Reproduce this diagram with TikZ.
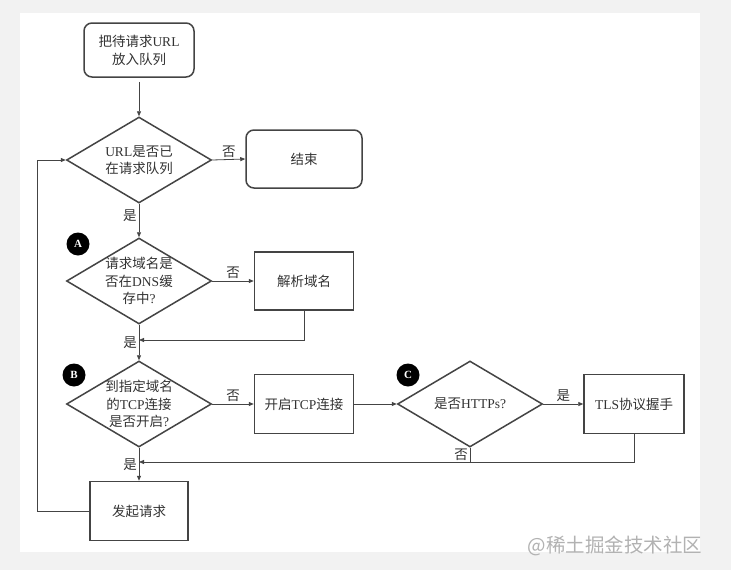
\documentclass[tikz,border=0pt]{standalone}
\usepackage{fontspec}
\setmainfont{Liberation Serif}
\newfontfamily\cjk{Noto Sans CJK SC}
\newcommand\zh[1]{{\cjk #1}}
\usetikzlibrary{shapes.geometric,arrows.meta}
\definecolor{ln}{HTML}{444444}
\definecolor{tx}{HTML}{333333}
\tikzset{
  base/.style={draw=ln, line width=1.5pt, text=tx, align=center, inner sep=2pt,
    font=\fontsize{13.5}{18}\selectfont},
  rbox/.style={base, rounded corners=8pt},
  sbox/.style={base},
  dia/.style={draw=ln, line width=1.5pt, diamond, inner sep=0pt,
    minimum width=145pt, minimum height=86pt},
  dtext/.style={text=tx, align=center, font=\fontsize{13.5}{17.5}\selectfont},
  arr/.style={draw=ln, line width=0.8pt, -{Triangle[length=5pt,width=4pt]}},
  con/.style={draw=ln, line width=0.8pt},
  lab/.style={text=tx, font=\fontsize{13.5}{16}\selectfont, inner sep=2pt},
  circ/.style={circle, fill=black, text=white, minimum size=23pt, inner sep=0pt,
    font=\bfseries\fontsize{11}{11}\selectfont}
}
\begin{document}
\begin{tikzpicture}[x=1pt,y=-1pt]
\useasboundingbox (0,0) rectangle (731,570);
\fill[black!5] (0,0) rectangle (731,570);
\fill[white] (20,13) rectangle (700,552);

% nodes
\node[rbox, minimum width=110pt, minimum height=54pt] (start) at (139,50) {\zh{把待请求}URL\\\zh{放入队列}};
\node[dia] (d1) at (139,160) {};
\node[dtext] (t1) at (139,160) {URL\zh{是否已}\\\zh{在请求队列}};
\node[rbox, minimum width=116pt, minimum height=58pt] (end) at (304,159) {\zh{结束}};

\node[dia] (d2) at (139,281) {};
\node[dtext] (t2) at (139,281) {\zh{请求域名是}\\\zh{否在}DNS\zh{缓}\\\zh{存中}?};
\node[sbox, minimum width=99pt, minimum height=58pt] (dns) at (304,281) {\zh{解析域名}};

\node[dia] (d3) at (139,404) {};
\node[dtext] (t3) at (139,404) {\zh{到指定域名}\\\zh{的}TCP\zh{连接}\\\zh{是否开启}?};
\node[sbox, minimum width=99pt, minimum height=59pt] (tcp) at (304,404) {\zh{开启}TCP\zh{连接}};

\node[dia] (d4) at (470,404) {};
\node[dtext] (t4) at (470,404) {\zh{是否}HTTPs?};
\node[sbox, minimum width=100pt, minimum height=59pt] (tls) at (634,404) {TLS\zh{协议握手}};

\node[sbox, minimum width=98pt, minimum height=59pt] (req) at (139,511) {\zh{发起请求}};

\node[circ] (ca) at (78,244) {A};
\node[circ] (cb) at (74,375) {B};
\node[circ] (cc) at (408,375) {C};

\coordinate (j1) at (139,340);
\coordinate (j2) at (139,462);
\coordinate (lp) at (37,160);

% connectors
\draw[arr, shorten <=4pt] (start) -- (d1.north);
\draw[arr] (d1.east) -- (end.west) node[lab, midway, above] {\zh{否}};
\draw[arr] (d1.south) -- (d2.north) node[lab, pos=0.35, left] {\zh{是}};
\draw[arr] (d2.east) -- (dns.west) node[lab, midway, above] {\zh{否}};
\draw[arr] (dns.south) |- (j1);
\draw[arr] (d2.south) -- (d3.north);
\node[lab, left] (y2) at (139,343) {\zh{是}};
\draw[arr] (d3.east) -- (tcp.west) node[lab, midway, above] {\zh{否}};
\draw[arr] (tcp.east) -- (d4.west);
\draw[arr] (d4.east) -- (tls.west) node[lab, midway, above] {\zh{是}};
\draw[arr] (tls.south) |- (j2);
\draw[con] (d4.south) -- (d4.south |- j2);
\node[lab] (n4) at (461,455) {\zh{否}};
\draw[arr] (d3.south) -- (req.north);
\node[lab, left] (y3) at (139,465) {\zh{是}};
\draw[arr] (req.west) -- (req.west -| lp) -- (lp) -- (d1.west);

\node[text=black!30, font=\cjk\fontsize{19.5}{19.5}\selectfont, inner sep=0pt] (wm) at (615,546) {@稀土掘金技术社区};
\end{tikzpicture}
\end{document}
